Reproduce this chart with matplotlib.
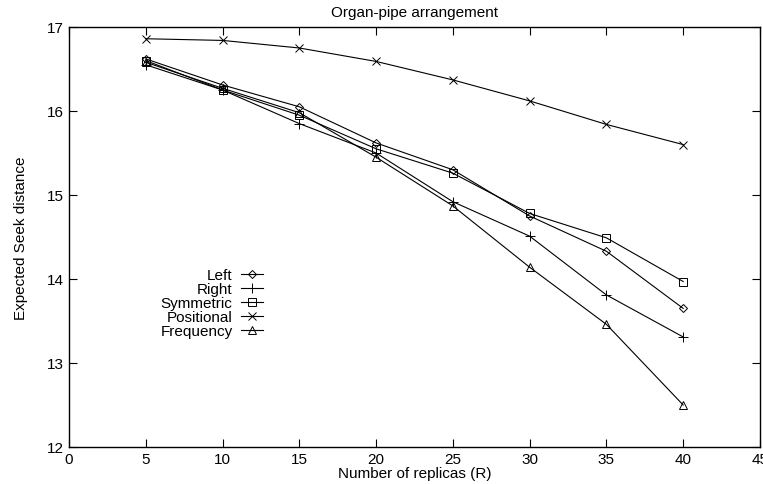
import matplotlib
matplotlib.use('Agg')
import matplotlib.pyplot as plt

plt.rcParams['font.family'] = ['Liberation Sans', 'DejaVu Sans']

replicas = [5, 10, 15, 20, 25, 30, 35, 40]
left = [16.62, 16.31, 16.05, 15.62, 15.30, 14.75, 14.33, 13.65]
right = [16.55, 16.25, 15.85, 15.50, 14.92, 14.51, 13.81, 13.31]
symmetric = [16.60, 16.25, 15.95, 15.55, 15.26, 14.78, 14.49, 13.97]
positional = [16.86, 16.84, 16.75, 16.59, 16.37, 16.12, 15.84, 15.60]
frequency = [16.58, 16.27, 15.98, 15.45, 14.87, 14.14, 13.46, 12.50]

series = [('Left', left, 'D', 4.5),
          ('Right', right, '+', 6.5),
          ('Symmetric', symmetric, 's', 6),
          ('Positional', positional, 'x', 5.5),
          ('Frequency', frequency, '^', 6)]

fig = plt.figure(figsize=(7.63, 4.85), dpi=100)
ax = fig.add_axes([0.0904, 0.0763, 0.9056, 0.866])

for name, vals, marker, ms in series:
    ax.plot(replicas, vals, color='black', linewidth=0.8, marker=marker,
            markersize=ms, markerfacecolor='none', markeredgecolor='black',
            markeredgewidth=0.7, label=name)

ax.set_xlim(0, 45)
ax.set_ylim(12, 17)
ax.set_xticks(range(0, 46, 5))
ax.set_yticks(range(12, 18))
ax.tick_params(direction='in', top=True, right=True, length=6, width=0.8,
               labelsize=11)
for s in ax.spines.values():
    s.set_linewidth(1.0)

ax.set_title('Organ-pipe arrangement', fontsize=11, pad=8)
ax.set_xlabel('Number of replicas (R)', fontsize=11, labelpad=0)
ax.set_ylabel('Expected Seek distance', fontsize=11, labelpad=14)

ax.legend(loc='upper right', bbox_to_anchor=(0.281, 0.425), frameon=False,
          markerfirst=False, fontsize=11, handlelength=1.45, handletextpad=0.55,
          labelspacing=0.0, borderpad=0.0, borderaxespad=0.0)

fig.savefig('out.png', dpi=100)
